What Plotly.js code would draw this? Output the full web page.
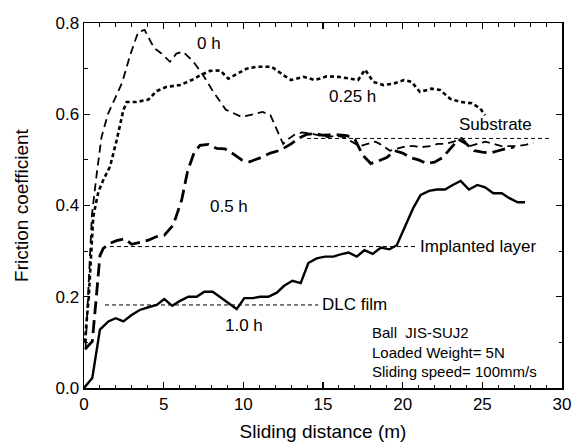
<!DOCTYPE html>
<html>
<head>
<meta charset="utf-8">
<script src="https://cdn.plot.ly/plotly-3.0.1.min.js"></script>
<style>html,body{margin:0;padding:0;background:#fff}#chart{width:572px;height:446px}</style>
</head>
<body>
<div id="chart"></div>
<script>
// ---- data ----
const x0h = [0.1,0.3,0.5,0.8,1.1,1.5,1.9,2.4,2.9,3.4,3.8,4.4,4.8,5.4,5.8,6.2,6.8,7.4,8.1,8.9,9.9,10.6,11.2,11.7,12.2,12.5,12.8,13.2,13.7,14.2,14.8,15.3,15.8,16.3,16.8,17.3,17.8,18.3,18.8,19.2,19.7,20.2,20.7,21.2,21.7,22.2,22.7,23.2,23.7,24.2,24.7,25.2,25.7,26.2,26.7,27.2,27.7,28.2];
const y0h = [0.09,0.25,0.38,0.47,0.55,0.6,0.63,0.67,0.73,0.78,0.785,0.745,0.735,0.715,0.733,0.737,0.718,0.69,0.65,0.61,0.594,0.6,0.605,0.598,0.56,0.535,0.545,0.555,0.56,0.558,0.553,0.55,0.553,0.55,0.54,0.53,0.535,0.54,0.53,0.52,0.525,0.53,0.53,0.528,0.53,0.535,0.535,0.54,0.548,0.53,0.535,0.54,0.535,0.53,0.53,0.53,0.533,0.537];

const x025h = [0.05,0.3,0.58,0.9,1.21,1.63,2.05,2.47,2.68,3.3,4.04,4.56,5.19,6.03,6.76,7.28,7.9,8.54,9.06,9.58,10.21,10.84,11.78,12.5,13.0,13.77,14.5,15.24,15.97,16.7,17.2,17.64,18.16,18.79,19.42,20.08,20.56,21.08,21.81,22.35,22.98,23.6,24.34,24.86,25.17];
const y025h = [0.1,0.2,0.375,0.43,0.456,0.485,0.543,0.609,0.627,0.627,0.632,0.651,0.66,0.664,0.675,0.685,0.695,0.696,0.678,0.688,0.7,0.704,0.704,0.686,0.675,0.682,0.675,0.683,0.682,0.678,0.675,0.698,0.671,0.664,0.667,0.675,0.671,0.649,0.656,0.653,0.634,0.627,0.624,0.613,0.598];

const x05h = [0.06,0.52,0.75,1.0,1.21,1.63,2.05,2.57,2.99,3.5,4.04,4.56,5.04,5.6,6.13,6.5,6.9,7.28,7.8,8.33,8.85,9.37,9.9,10.4,11.1,11.7,12.3,13.0,13.5,14.0,14.5,15.0,15.5,16.0,16.5,17.0,17.5,18.0,18.5,19.0,19.5,20.0,20.5,21.0,21.5,22.0,22.5,23.0,23.5,24.0,24.5,25.0,25.5,26.0,26.5,27.0];
const y05h = [0.085,0.102,0.19,0.29,0.306,0.317,0.323,0.327,0.315,0.319,0.324,0.332,0.335,0.357,0.412,0.475,0.515,0.532,0.534,0.525,0.524,0.513,0.5,0.496,0.505,0.515,0.521,0.535,0.548,0.556,0.558,0.554,0.555,0.555,0.553,0.545,0.51,0.492,0.498,0.505,0.52,0.515,0.505,0.5,0.492,0.495,0.505,0.525,0.545,0.535,0.52,0.517,0.515,0.52,0.525,0.528];

const x1h = [0,0.52,1.0,1.53,1.99,2.47,2.99,3.5,4.04,4.56,5.04,5.54,6.03,6.55,7.07,7.55,8.08,8.58,9.06,9.58,10.06,10.59,11.05,11.57,12.1,12.56,13.08,13.6,14.08,14.6,15.13,15.65,16.1,16.6,17.12,17.6,18.12,18.64,19.17,19.63,20.15,20.67,21.13,21.66,22.14,22.66,23.14,23.64,24.16,24.69,25.17,25.69,26.22,26.7,27.22,27.68];
const y1h = [0,0.022,0.128,0.146,0.153,0.146,0.16,0.171,0.177,0.182,0.195,0.18,0.191,0.2,0.2,0.211,0.211,0.198,0.187,0.173,0.197,0.197,0.2,0.2,0.209,0.224,0.235,0.23,0.274,0.284,0.288,0.288,0.293,0.297,0.288,0.302,0.294,0.308,0.304,0.313,0.354,0.395,0.423,0.432,0.435,0.435,0.445,0.454,0.435,0.445,0.44,0.427,0.427,0.416,0.407,0.407];

const refNames = ['Substrate','Implanted layer','DLC film'];
const refX = [[14.0,29.35],[1.63,20.78],[1.32,14.7]];
const refY = [0.547,0.31,0.182];

const curveLabels = ['0 h','0.25 h','0.5 h','1.0 h'];
const testInfo = ['Ball  JIS-SUJ2','Loaded Weight= 5N','Sliding speed= 100mm/s'];

// ---- traces ----
const font = 'Liberation Sans, Arial, sans-serif';
const traces = [];
refNames.forEach((n,i)=>{
  traces.push({x: refX[i], y: [refY[i], refY[i]], mode:'lines', name:n,
    line:{color:'#000', width:1, dash:'4px,3px'}, hoverinfo:'skip'});
});
traces.push({x:x0h, y:y0h, mode:'lines', name:curveLabels[0], line:{color:'#000', width:1.8, dash:'8px,5px'}});
traces.push({x:x025h, y:y025h, mode:'lines', name:curveLabels[1], line:{color:'#000', width:2.6, dash:'4px,3px'}});
traces.push({x:x05h, y:y05h, mode:'lines', name:curveLabels[2], line:{color:'#000', width:2.8, dash:'13px,6px'}});
traces.push({x:x1h, y:y1h, mode:'lines', name:curveLabels[3], line:{color:'#000', width:2.4}});

const ann = (text,x,y,xa,size)=>({text, x, y, xref:'x', yref:'y', showarrow:false, xanchor:xa||'center', yanchor:'middle', font:{family:font,size:size||17,color:'#000'}});
const annotations = [
  ann(curveLabels[0], 7.85, 0.755),
  ann(curveLabels[1], 16.85, 0.638),
  ann(curveLabels[2], 9.1, 0.397),
  ann(curveLabels[3], 10.05, 0.138),
  ann(refNames[0], 25.8, 0.577),
  ann(refNames[1], 20.95, 0.31, 'left'),
  ann(refNames[2], 14.8, 0.182, 'left'),
  Object.assign(ann(testInfo.join('<br>'), 17.95, 0.079, 'left', 15), {align:'left'})
];

const axisCommon = {
  showgrid:false, zeroline:false, showline:true, linecolor:'#000', linewidth:1.5,
  mirror:'allticks', ticks:'inside', ticklen:6, tickwidth:1.3, tickcolor:'#000',
  tickfont:{family:font, size:17, color:'#000'}
};
const layout = {
  width:572, height:446,
  margin:{l:84, r:10, t:23, b:58},
  paper_bgcolor:'#fff', plot_bgcolor:'#fff',
  showlegend:false,
  xaxis: Object.assign({}, axisCommon, {
    range:[0,30], dtick:5, tick0:0,
    minor:{dtick:1, ticks:'inside', ticklen:3.5, tickwidth:1.1, tickcolor:'#000', showgrid:false},
    title:{text:'Sliding distance (m)', font:{family:font, size:19, color:'#000'}, standoff:12}
  }),
  yaxis: Object.assign({}, axisCommon, {
    range:[0,0.8], dtick:0.2, tick0:0, tickformat:'.1f',
    minor:{dtick:0.1, ticks:'inside', ticklen:3.5, tickwidth:1.1, tickcolor:'#000', showgrid:false},
    title:{text:'Friction coefficient', font:{family:font, size:19, color:'#000'}, standoff:22}
  }),
  annotations
};
Plotly.newPlot('chart', traces, layout, {staticPlot:true, displayModeBar:false});
</script>
</body>
</html>
